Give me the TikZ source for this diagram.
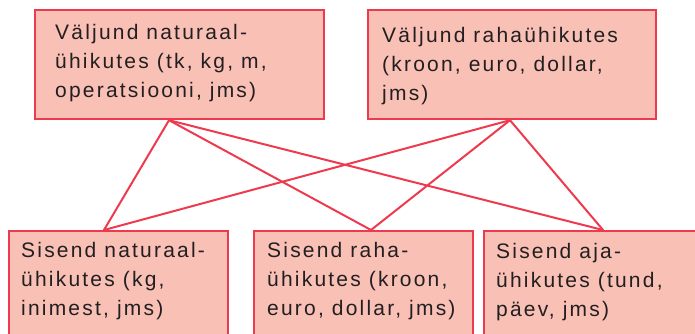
\documentclass[tikz,border=0pt]{standalone}
\usepackage{fontspec}
\setmainfont{Liberation Sans}[LetterSpace=10.5]
\usetikzlibrary{calc}
\definecolor{boxfill}{HTML}{F9C0B6}
\definecolor{boxline}{HTML}{EE3A4F}
\definecolor{ink}{HTML}{231F20}
\begin{document}
\begin{tikzpicture}[x=1pt,y=-1pt,
  unitbox/.style={draw=boxline,fill=boxfill,line width=2.2pt,inner sep=0pt,anchor=north west},
  boxtext/.style={anchor=base west,inner sep=0pt,align=left,text=ink,
    font=\fontsize{21pt}{28.8pt}\selectfont},
  link/.style={draw=boxline,line width=2pt,line cap=round}]
\useasboundingbox (0,0) rectangle (695,333);
\clip (0,0) rectangle (695,333);

% output boxes
\node[unitbox,minimum width=289pt,minimum height=109pt] (outnat) at (34,9) {};
\node[unitbox,minimum width=288pt,minimum height=109pt] (outmon) at (367,9) {};
% input boxes
\node[unitbox,minimum width=219pt,minimum height=120pt] (innat) at (8,230) {};
\node[unitbox,minimum width=219pt,minimum height=120pt] (inmon) at (253,230) {};
\node[unitbox,minimum width=230pt,minimum height=120pt] (intime) at (483,230) {};

% attachment points on the box edges
\coordinate (onat) at ($(outnat.south west)+(135,0)$);
\coordinate (omon) at ($(outmon.south west)+(143,0)$);
\coordinate (inat) at ($(innat.north west)+(96,0)$);
\coordinate (imon) at ($(inmon.north west)+(118,0)$);
\coordinate (itime) at ($(intime.north west)+(120,0)$);

% every output is linked to every input
\foreach \o in {onat,omon}
  \foreach \i in {inat,imon,itime}
    \draw[link] (\o) -- (\i);

% labels (anchored at the baseline of their last line)
\node[boxtext] (outnattxt) at ($(outnat.north west)+(21,88)$)
  {Väljund naturaal-\\ühikutes (tk, kg, m,\\operatsiooni, jms)};
\node[boxtext] (outmontxt) at ($(outmon.north west)+(15,91)$)
  {Väljund rahaühikutes\\(kroon, euro, dollar,\\jms)};
\node[boxtext] (innattxt) at ($(innat.north west)+(13,85)$)
  {Sisend naturaal-\\ühikutes (kg,\\inimest, jms)};
\node[boxtext] (inmontxt) at ($(inmon.north west)+(14,85)$)
  {Sisend raha-\\ühikutes (kroon,\\euro, dollar, jms)};
\node[boxtext] (intimetxt) at ($(intime.north west)+(13,86)$)
  {Sisend aja-\\ühikutes (tund,\\päev, jms)};
\end{tikzpicture}
\end{document}
